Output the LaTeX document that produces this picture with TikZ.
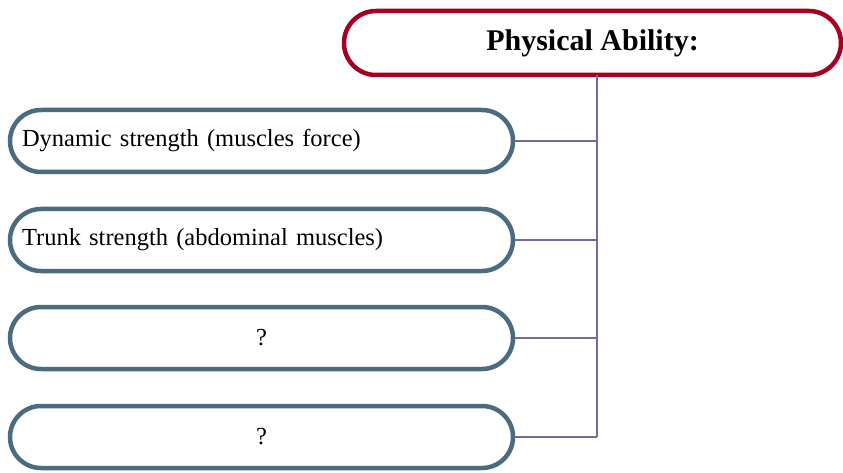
\documentclass[tikz,border=0pt]{standalone}
\usepackage{fontspec}
\setmainfont{Liberation Serif}
\definecolor{abilityred}{HTML}{A50021}
\definecolor{itemblue}{HTML}{4A6B80}
\definecolor{linkpurple}{HTML}{7468A8}
\tikzset{
    headbox/.style={draw=abilityred, line width=4.5pt, rounded corners=32pt,
        minimum width=497pt, minimum height=64pt, inner sep=0pt,
        font=\fontsize{30}{34}\selectfont\bfseries},
    itembox/.style={draw=itemblue, line width=4.5pt, rounded corners=31pt,
        text width=479pt, inner xsep=12pt, inner ysep=0pt,
        minimum height=62pt, font=\fontsize{24.5}{28}\selectfont},
    link/.style={draw=linkpurple, line width=1.5pt}
}
\begin{document}
\begin{tikzpicture}[x=1pt, y=-1pt]

    \useasboundingbox (0,0) rectangle (843,473);

    \node[headbox] (phys) at (592.5,43) {Physical Ability:};

    \node[itembox, align=left] (dyn) at (261.5,141) {Dynamic strength (muscles force)};
    \node[itembox, align=left] (trunk) at (261.5,240) {Trunk strength (abdominal muscles)};
    \node[itembox, align=center] (q1) at (261.5,338) {?};
    \node[itembox, align=center] (q2) at (261.5,437) {?};

    \coordinate (top) at (597,75);
    \coordinate (bottom) at (597,437);

    \draw[link] (top) -- (bottom);
    \draw[link] (dyn.east) -- (dyn.east -| top);
    \draw[link] (trunk.east) -- (trunk.east -| top);
    \draw[link] (q1.east) -- (q1.east -| top);
    \draw[link] (q2.east) -- (bottom);

\end{tikzpicture}
\end{document}
